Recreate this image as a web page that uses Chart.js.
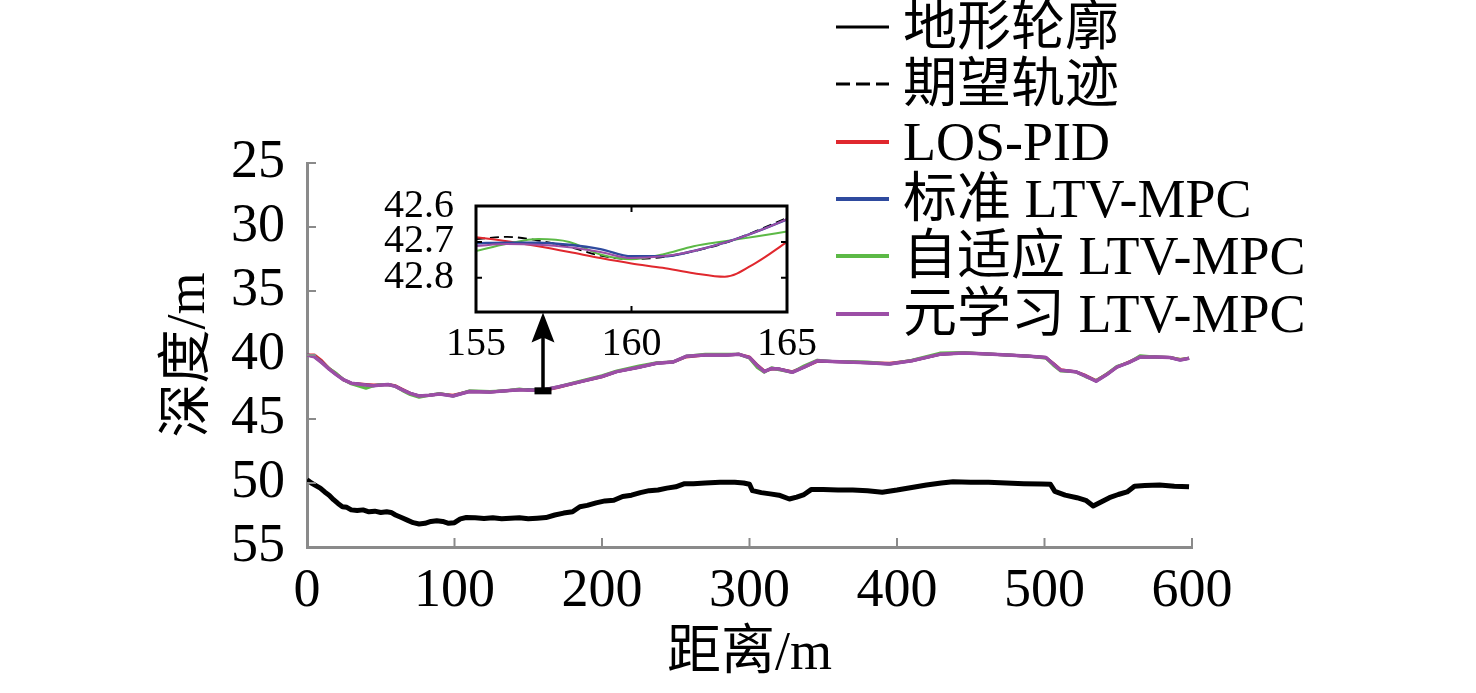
<!DOCTYPE html>
<html>
<head>
<meta charset="utf-8">
<script src="https://cdn.jsdelivr.net/npm/chart.js@4.4.0/dist/chart.umd.min.js"></script>
<style>
  body { margin: 0; background: #fff; }
  #wrap { position: relative; width: 1476px; height: 693px; overflow: hidden; }
  #main { position: absolute; left: 0; top: 0; }
  #zoom { position: absolute; left: 360px; top: 158px; }
  #legend { position: absolute; left: 836px; top: 0; font-family: "Liberation Serif", "Noto Sans CJK SC", serif; font-size: 54px; color: #000; }
  .row { position: absolute; left: 0; height: 58px; display: flex; align-items: center; white-space: nowrap; }
  .row span { margin-left: 14px; line-height: 1; }
</style>
</head>
<body>
<div id="wrap">
  <canvas id="main" width="1476" height="693"></canvas>
  <canvas id="zoom" width="470" height="207"></canvas>
  <div id="legend"></div>
</div>
<script>
const FONT = '"Liberation Serif", "Noto Sans CJK SC", serif';

// legend labels
const names = ['地形轮廓', '期望轨迹', 'LOS-PID', '标准 LTV-MPC', '自适应 LTV-MPC', '元学习 LTV-MPC'];

// main view: distance (m) along the track
const trackX = [0, 5, 10, 15, 20, 25, 30, 40, 45, 50,
  55, 60, 65, 70, 76, 83, 90, 99, 110, 124,
  135, 144, 150, 160, 170, 185, 200, 210, 225, 237,
  248, 257, 270, 285, 293, 300, 305, 310, 315, 320,
  329, 337, 346, 356, 366, 380, 395, 410, 429, 445,
  458, 475, 490, 501, 506, 511, 521, 528, 535, 542,
  549, 557, 565, 575, 585, 592, 598];

const refY = [40.0, 40.1, 40.55, 41.1, 41.55, 41.95, 42.2, 42.35, 42.4, 42.35,
  42.3, 42.45, 42.75, 43.0, 43.2, 43.15, 43.05, 43.2, 42.85, 42.9,
  42.8, 42.72, 42.75, 42.75, 42.5, 42.1, 41.68, 41.3, 40.95, 40.65,
  40.55, 40.1, 40.0, 40.0, 39.95, 40.2, 40.8, 41.3, 41.05, 41.1,
  41.35, 40.95, 40.45, 40.5, 40.55, 40.6, 40.7, 40.45, 39.95, 39.85,
  39.9, 40.0, 40.1, 40.2, 40.7, 41.2, 41.3, 41.65, 42.05, 41.55,
  40.95, 40.6, 40.15, 40.15, 40.2, 40.4, 40.25];

const pidY = [40.0, 40.0, 40.45, 41.05, 41.5, 41.95, 42.2, 42.3, 42.35, 42.35,
  42.3, 42.4, 42.7, 43.0, 43.2, 43.15, 43.05, 43.15, 42.85, 42.9,
  42.8, 42.72, 42.72, 42.78, 42.55, 42.1, 41.7, 41.3, 40.95, 40.65,
  40.55, 40.15, 40.0, 40.0, 39.95, 40.15, 40.75, 41.25, 41.1, 41.1,
  41.3, 40.95, 40.5, 40.5, 40.55, 40.6, 40.65, 40.45, 39.95, 39.85,
  39.9, 40.0, 40.1, 40.2, 40.65, 41.15, 41.3, 41.6, 42.0, 41.5,
  40.95, 40.55, 40.15, 40.15, 40.2, 40.35, 40.25];

const stdY = [40.0, 40.12, 40.55, 41.1, 41.55, 41.95, 42.2, 42.35, 42.4, 42.35,
  42.3, 42.45, 42.75, 43.0, 43.2, 43.15, 43.05, 43.2, 42.85, 42.9,
  42.8, 42.72, 42.72, 42.74, 42.5, 42.1, 41.68, 41.3, 40.95, 40.65,
  40.55, 40.1, 40.0, 40.0, 39.95, 40.2, 40.8, 41.3, 41.05, 41.1,
  41.35, 40.95, 40.45, 40.5, 40.55, 40.6, 40.7, 40.45, 39.95, 39.85,
  39.9, 40.0, 40.1, 40.2, 40.7, 41.2, 41.3, 41.65, 42.05, 41.55,
  40.95, 40.6, 40.15, 40.15, 40.2, 40.4, 40.25];

const adaptY = [40.0, 40.1, 40.6, 41.05, 41.45, 41.95, 42.25, 42.6, 42.4, 42.3,
  42.3, 42.45, 42.8, 43.1, 43.3, 43.15, 43.0, 43.2, 42.8, 42.85,
  42.8, 42.65, 42.75, 42.72, 42.5, 42.05, 41.62, 41.25, 40.85, 40.6,
  40.55, 40.1, 39.95, 39.95, 39.95, 40.25, 40.95, 41.35, 41.0, 41.15,
  41.35, 40.85, 40.4, 40.5, 40.5, 40.55, 40.7, 40.4, 39.85, 39.8,
  39.9, 40.0, 40.1, 40.25, 40.8, 41.25, 41.3, 41.7, 42.0, 41.5,
  40.9, 40.6, 40.05, 40.15, 40.2, 40.35, 40.25];

const metaY = [40.0, 40.15, 40.6, 41.1, 41.55, 41.95, 42.2, 42.35, 42.4, 42.35,
  42.3, 42.45, 42.75, 43.0, 43.2, 43.15, 43.05, 43.2, 42.85, 42.9,
  42.8, 42.72, 42.75, 42.74, 42.5, 42.1, 41.68, 41.3, 40.95, 40.65,
  40.55, 40.1, 40.0, 40.0, 39.95, 40.2, 40.8, 41.3, 41.05, 41.1,
  41.35, 40.95, 40.45, 40.5, 40.55, 40.6, 40.7, 40.45, 39.95, 39.85,
  39.9, 40.0, 40.1, 40.2, 40.7, 41.2, 41.3, 41.65, 42.05, 41.55,
  40.95, 40.6, 40.15, 40.15, 40.2, 40.4, 40.25];

// seabed profile
const terrainX = [0, 3, 6, 9, 12, 15, 18, 21, 24, 27,
  30, 34, 38, 42, 46, 50, 54, 57, 60, 64,
  68, 72, 76, 80, 84, 88, 92, 96, 100, 104,
  108, 114, 120, 126, 132, 138, 144, 150, 156, 162,
  168, 174, 180, 185, 190, 196, 202, 208, 214, 220,
  226, 232, 238, 244, 250, 256, 262, 270, 280, 290,
  296, 300, 302, 308, 314, 320, 327, 332, 337, 342,
  350, 360, 370, 380, 390, 400, 410, 420, 430, 438,
  450, 462, 474, 486, 498, 504, 507, 514, 522, 528,
  533, 538, 544, 550, 556, 561, 568, 578, 588, 598];
const terrainY = [49.75, 50.0, 50.2, 50.4, 50.7, 50.95, 51.3, 51.6, 51.85, 51.9,
  52.1, 52.15, 52.1, 52.25, 52.2, 52.3, 52.25, 52.3, 52.5, 52.7,
  52.9, 53.1, 53.2, 53.15, 53.0, 52.95, 53.0, 53.15, 53.1, 52.8,
  52.7, 52.72, 52.78, 52.72, 52.8, 52.75, 52.72, 52.8, 52.75, 52.7,
  52.5, 52.35, 52.25, 51.85, 51.75, 51.55, 51.4, 51.35, 51.05, 50.95,
  50.75, 50.6, 50.55, 50.4, 50.3, 50.05, 50.05, 50.0, 49.95, 49.95,
  50.0, 50.1, 50.6, 50.75, 50.85, 50.95, 51.25, 51.1, 50.9, 50.5,
  50.5, 50.55, 50.55, 50.6, 50.72, 50.55, 50.35, 50.15, 50.0, 49.9,
  49.95, 49.95, 50.0, 50.05, 50.08, 50.1, 50.65, 50.95, 51.15, 51.35,
  51.8, 51.5, 51.15, 50.9, 50.7, 50.25, 50.2, 50.15, 50.25, 50.3];

const xTicks = [0, 100, 200, 300, 400, 500, 600];
const yTicks = [25, 30, 35, 40, 45, 50, 55];

// zoomed window 155-165 m
const insetX = [155, 156, 157, 158, 159, 160, 161, 162, 163, 164, 165];
const zRef   = [42.692, 42.686, 42.696, 42.714, 42.738, 42.748, 42.742, 42.726, 42.703, 42.670, 42.633];
const zPid   = [42.687, 42.698, 42.712, 42.728, 42.745, 42.760, 42.772, 42.787, 42.797, 42.758, 42.700];
const zStd   = [42.704, 42.702, 42.702, 42.708, 42.720, 42.740, 42.740, 42.725, 42.702, 42.672, 42.637];
const zAdapt = [42.725, 42.705, 42.692, 42.700, 42.735, 42.748, 42.735, 42.712, 42.698, 42.685, 42.671];
const zMeta  = [42.711, 42.706, 42.708, 42.715, 42.728, 42.745, 42.740, 42.725, 42.702, 42.672, 42.637];
const insetXTicks = [155, 160, 165];
const insetYTicks = [42.6, 42.7, 42.8];

// arrow from the track at 160 m up to the zoom box
const arrowAt = { x: 160, from: 42.8, to: 36.67 };

const colors = ['#000000', '#000000', '#e0282e', '#2e4a9e', '#5cb946', '#9c4ea6'];

function pts(xs, ys) {
  return xs.map((x, i) => ({ x: x, y: ys[i] }));
}

const innerTicks = {
  id: 'innerTicks',
  afterDraw(chart, args, o) {
    const { ctx, chartArea: a, scales: { x, y } } = chart;
    ctx.save();
    ctx.strokeStyle = o.color;
    ctx.lineWidth = o.width;
    if (o.box) {
      ctx.lineWidth = o.boxWidth;
      ctx.strokeRect(a.left, a.top, a.right - a.left, a.bottom - a.top);
      ctx.lineWidth = o.width;
    }
    x.ticks.forEach(t => {
      const px = x.getPixelForValue(t.value);
      if (Math.abs(px - a.left) < 2) return;
      if (o.box && Math.abs(px - a.right) < 2) return;
      ctx.beginPath();
      ctx.moveTo(px, a.bottom);
      ctx.lineTo(px, a.bottom - o.len);
      if (o.box) {
        ctx.moveTo(px, a.top);
        ctx.lineTo(px, a.top + o.len);
      }
      ctx.stroke();
    });
    y.ticks.forEach(t => {
      const py = y.getPixelForValue(t.value);
      if (Math.abs(py - a.bottom) < 2) return;
      if (o.box && Math.abs(py - a.top) < 2) return;
      ctx.beginPath();
      ctx.moveTo(a.left, py);
      ctx.lineTo(a.left + o.len, py);
      if (o.box) {
        ctx.moveTo(a.right, py);
        ctx.lineTo(a.right - o.len, py);
      }
      ctx.stroke();
    });
    ctx.restore();
  }
};

const arrow = {
  id: 'arrow',
  afterDatasetsDraw(chart) {
    const { ctx, scales: { x, y } } = chart;
    const px = x.getPixelForValue(arrowAt.x);
    const y0 = y.getPixelForValue(arrowAt.from);
    const y1 = y.getPixelForValue(arrowAt.to);
    ctx.save();
    ctx.fillStyle = '#000';
    ctx.strokeStyle = '#000';
    ctx.lineWidth = 3.5;
    ctx.beginPath();
    ctx.moveTo(px, y0);
    ctx.lineTo(px, y1 + 24);
    ctx.stroke();
    ctx.beginPath();
    ctx.moveTo(px, y1);
    ctx.lineTo(px - 11.5, y1 + 30);
    ctx.lineTo(px, y1 + 25);
    ctx.lineTo(px + 11.5, y1 + 30);
    ctx.closePath();
    ctx.fill();
    ctx.fillRect(px - 8.5, y0 - 3.5, 17, 7);
    ctx.restore();
  }
};

const mainData = [
  { label: names[0], data: pts(terrainX, terrainY), borderColor: colors[0], borderWidth: 5, order: 5 },
  { label: names[1], data: pts(trackX, refY), borderColor: colors[1], borderWidth: 2, borderDash: [8, 5], order: 4 },
  { label: names[2], data: pts(trackX, pidY), borderColor: colors[2], borderWidth: 3, order: 3 },
  { label: names[3], data: pts(trackX, stdY), borderColor: colors[3], borderWidth: 3, order: 2 },
  { label: names[4], data: pts(trackX, adaptY), borderColor: colors[4], borderWidth: 3, order: 1 },
  { label: names[5], data: pts(trackX, metaY), borderColor: colors[5], borderWidth: 3.5, order: 0 }
];

const mainChart = new Chart(document.getElementById('main'), {
  type: 'line',
  data: { datasets: mainData },
  options: {
    responsive: false,
    animation: false,
    elements: { point: { radius: 0 }, line: { tension: 0, borderJoinStyle: 'round' } },
    layout: { padding: { left: 0, top: 163, right: 284, bottom: 0 } },
    plugins: {
      legend: { display: false },
      tooltip: { enabled: false },
      innerTicks: { color: '#8a8a8a', width: 2, len: 9 }
    },
    scales: {
      x: {
        type: 'linear', min: 0, max: 600,
        afterBuildTicks: s => { s.ticks = xTicks.map(v => ({ value: v })); },
        ticks: { color: '#000', font: { family: FONT, size: 54 }, padding: 12, maxRotation: 0, autoSkip: false },
        grid: { display: false, drawTicks: false },
        border: { color: '#8a8a8a', width: 3 },
        title: { display: true, text: '距离/m', color: '#000', font: { family: FONT, size: 54 }, padding: { top: 0, bottom: 6 } },
        afterFit: s => { s.height = 146; }
      },
      y: {
        type: 'linear', min: 25, max: 55, reverse: true,
        afterBuildTicks: s => { s.ticks = yTicks.map(v => ({ value: v })); },
        ticks: { color: '#000', font: { family: FONT, size: 54 }, padding: 22, autoSkip: false },
        grid: { display: false, drawTicks: false },
        border: { color: '#8a8a8a', width: 3 },
        title: { display: true, text: '深度/m', color: '#000', font: { family: FONT, size: 54 }, padding: { top: 157, bottom: 0 } },
        afterFit: s => { s.width = 307; }
      }
    }
  },
  plugins: [innerTicks, arrow]
});

new Chart(document.getElementById('zoom'), {
  type: 'line',
  data: {
    datasets: [
      { label: names[1], data: pts(insetX, zRef), borderColor: colors[1], borderWidth: 1.8, borderDash: [9, 5], order: 4 },
      { label: names[2], data: pts(insetX, zPid), borderColor: colors[2], borderWidth: 2, order: 3 },
      { label: names[3], data: pts(insetX, zStd), borderColor: colors[3], borderWidth: 2.5, order: 1 },
      { label: names[4], data: pts(insetX, zAdapt), borderColor: colors[4], borderWidth: 2, order: 2 },
      { label: names[5], data: pts(insetX, zMeta), borderColor: colors[5], borderWidth: 2, order: 0 }
    ]
  },
  options: {
    responsive: false,
    animation: false,
    elements: { point: { radius: 0 }, line: { cubicInterpolationMode: 'monotone' } },
    layout: { padding: { left: 0, top: 48, right: 43, bottom: 0 } },
    plugins: {
      legend: { display: false },
      tooltip: { enabled: false },
      innerTicks: { color: '#000', width: 2, len: 6, box: true, boxWidth: 3 }
    },
    scales: {
      x: {
        type: 'linear', min: 155, max: 165,
        afterBuildTicks: s => { s.ticks = insetXTicks.map(v => ({ value: v })); },
        ticks: { color: '#000', font: { family: FONT, size: 40 }, padding: 8, maxRotation: 0, autoSkip: false },
        grid: { display: false, drawTicks: false },
        border: { display: false },
        afterFit: s => { s.height = 53; }
      },
      y: {
        type: 'linear', min: 42.6, max: 42.895, reverse: true,
        afterBuildTicks: s => { s.ticks = insetYTicks.map(v => ({ value: v })); },
        ticks: { color: '#000', font: { family: FONT, size: 40 }, padding: 22, autoSkip: false, callback: v => v.toFixed(1) },
        grid: { display: false, drawTicks: false },
        border: { display: false },
        afterFit: s => { s.width = 116; }
      }
    }
  },
  plugins: [innerTicks]
});

// legend rows built from the main chart's datasets
const legend = document.getElementById('legend');
mainChart.data.datasets.forEach((ds, i) => {
  const row = document.createElement('div');
  row.className = 'row';
  row.style.top = (27 + i * 57.3 - 29) + 'px';
  const w = i < 2 ? 3 : 4;
  const dash = ds.borderDash ? ' stroke-dasharray="14 6"' : '';
  row.innerHTML = '<svg width="53" height="10"><line x1="0" y1="5" x2="53" y2="5" stroke="' +
    ds.borderColor + '" stroke-width="' + w + '"' + dash + '/></svg><span>' + ds.label + '</span>';
  legend.appendChild(row);
});
</script>
</body>
</html>
